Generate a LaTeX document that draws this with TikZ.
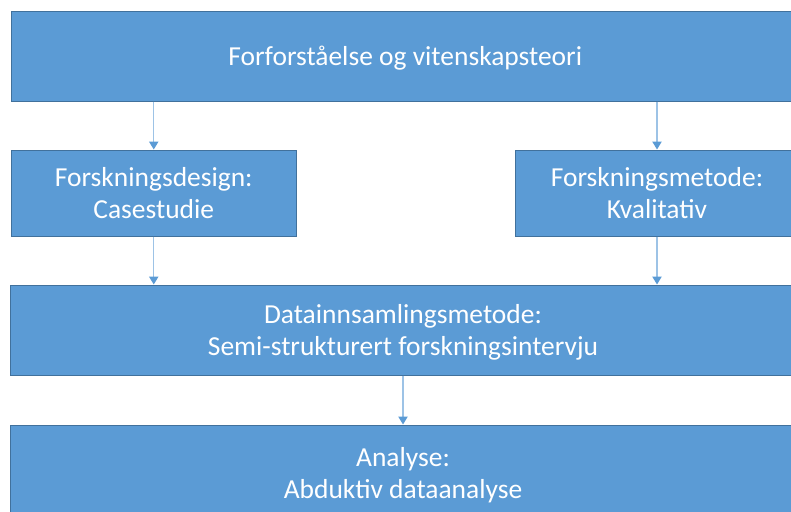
\documentclass[tikz,border=0pt]{standalone}
\usepackage{fontspec}
\setmainfont{Carlito}
\usetikzlibrary{arrows.meta}
\definecolor{boxblue}{HTML}{5B9BD5}
\definecolor{boxedge}{HTML}{41719C}
\definecolor{linkblue}{HTML}{9DC3E6}
\begin{document}
\begin{tikzpicture}[x=0.75pt,y=-0.75pt,
  every node/.style={font=\fontsize{20.6}{24.6}\selectfont},
  stage/.style={draw=boxedge,fill=boxblue,line width=0.75pt,text=white,align=center,inner sep=0pt,text depth=0pt},
  flow/.style={linkblue,line width=0.9pt,-{Triangle[length=6pt,width=7pt,fill=boxblue,color=boxblue]}}]
\clip (0,0) rectangle (791,511);
\useasboundingbox (0,0) rectangle (791,511);
\node[stage,minimum width=590.6pt,minimum height=67.5pt] (forst) at (405.25,56) {Forforståelse og vitenskapsteori};
\node[stage,minimum width=213.4pt,minimum height=64.5pt] (design) at (153.75,193) {Forskningsdesign:\\Casestudie};
\node[stage,minimum width=213pt,minimum height=64.5pt] (metode) at (657,193) {Forskningsmetode:\\Kvalitativ};
\node[stage,minimum width=589.5pt,minimum height=67.5pt] (data) at (403,330) {Datainnsamlingsmetode:\\Semi-strukturert forskningsintervju};
\node[stage,minimum width=589.5pt,minimum height=72pt] (analyse) at (403,473) {Analyse:\\Abduktiv dataanalyse};
% arrows
\draw[flow] (forst.south -| design) -- (design);
\draw[flow] (forst.south -| metode) -- (metode);
\draw[flow] (design) -- (data.north -| design);
\draw[flow] (metode) -- (data.north -| metode);
\draw[flow] (data) -- (analyse);
\end{tikzpicture}
\end{document}
